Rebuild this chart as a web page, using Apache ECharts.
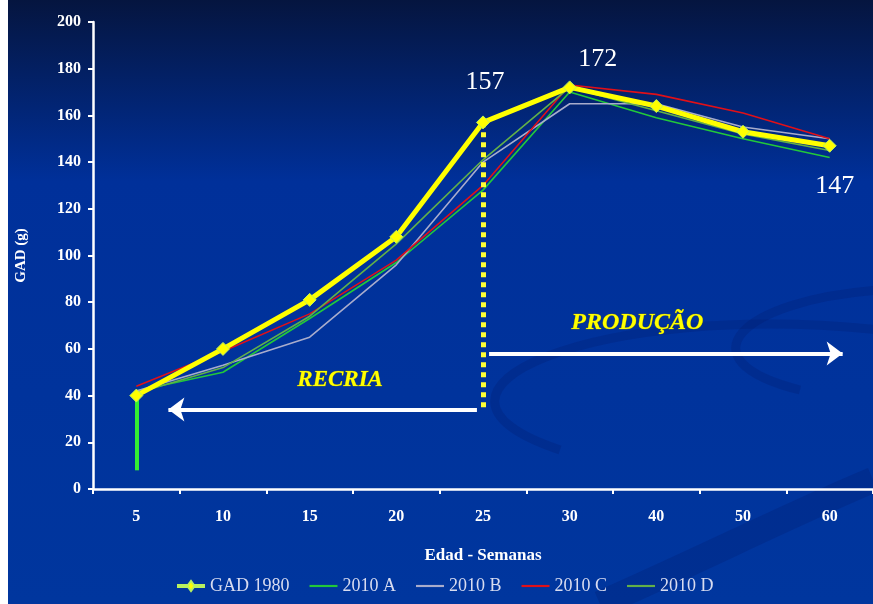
<!DOCTYPE html>
<html><head><meta charset="utf-8">
<script src="https://cdn.jsdelivr.net/npm/echarts@6/dist/echarts.min.js"></script>
<style>html,body{margin:0;padding:0;background:#fff}#c{width:873px;height:604px}</style>
</head><body><div id="c"></div>
<script>
var categories = ['5','10','15','20','25','30','40','50','60'];
var gad1980 = [40, 60, 81, 108, 157, 172, 164, 153, 147];
var s2010A = [42, 50, 73, 97, 128, 170, 159, 150, 142];
var s2010B = [42, 53, 65, 96, 140, 165, 165, 155, 150];
var s2010C = [44, 59, 75, 98, 130, 173, 169, 161, 150];
var s2010D = [41, 52, 74, 105, 141, 172, 162, 152, 145];
var yTicks = [0, 200, 20];
var peakLabels = {4: '157', 5: '172', 8: '147'};
var recriaArrow = [[3.93, 34], [0.37, 34]];
var producaoArrow = [[4.07, 58], [8.15, 58]];
var greenStem = [[0, 8], [0, 40]];
var yellowStem = [[4, 35], [4, 157]];

var serif = '"Liberation Serif","DejaVu Serif",serif';
var chart = echarts.init(document.getElementById('c'), null, {renderer: 'canvas'});

function thin(name, data, color) {
  return {name: name, type: 'line', data: data, symbol: 'none', z: 3,
    lineStyle: {width: 1.6, color: color}, itemStyle: {color: color}};
}
var labelPos = {4: {position: 'top', distance: 20, offset: [2, 0]},
                5: {position: 'top', distance: 8, offset: [28, 0]},
                8: {position: 'bottom', distance: 20, offset: [5, 0]}};
var gadData = gad1980.map(function (v, i) {
  var d = {value: v};
  if (peakLabels[i]) {
    d.label = Object.assign({show: true, formatter: peakLabels[i], color: '#ffffff',
      fontFamily: serif, fontSize: 26}, labelPos[i]);
  }
  return d;
});
function swoosh(x1, y1, cx1, cy1, cx2, cy2, x2, y2, w) {
  return {type: 'bezierCurve', silent: true, z: -1,
    shape: {x1: x1, y1: y1, cpx1: cx1, cpy1: cy1, cpx2: cx2, cpy2: cy2, x2: x2, y2: y2},
    style: {fill: null, stroke: 'rgba(0,25,100,0.22)', lineWidth: w}};
}
var lineIcon = 'path://M0,4 L26,4 L26,6 L0,6 Z';

chart.setOption({
  animation: false,
  backgroundColor: {type: 'linear', x: 0, y: 0, x2: 0, y2: 1, colorStops: [
    {offset: 0, color: '#05153f'}, {offset: 0.3, color: '#00309a'}, {offset: 1, color: '#00369e'}]},
  graphic: [
    {type: 'rect', left: 0, top: 0, shape: {width: 8, height: 604}, style: {fill: '#ffffff'}, z: 10},
    swoosh(880, 330, 600, 300, 380, 390, 560, 450, 9),
    swoosh(880, 290, 740, 300, 680, 360, 800, 390, 9),
    swoosh(600, 604, 700, 560, 800, 510, 873, 480, 26),
    {type: 'text', left: 297, top: 368, style: {text: 'RECRIA', fill: '#ffff00',
      font: 'italic bold 23px ' + serif, stroke: '#8a8a00', lineWidth: 0.6}, z: 20},
    {type: 'text', left: 571, top: 310, style: {text: 'PRODUÇÃO', fill: '#ffff00',
      font: 'italic bold 24px ' + serif, stroke: '#8a8a00', lineWidth: 0.6}, z: 20}
  ],
  grid: {left: 93, right: 0, top: 22, bottom: 115, containLabel: false},
  legend: {
    left: 172, bottom: 4, itemGap: 20, itemWidth: 28, itemHeight: 10,
    textStyle: {color: '#d8dcf0', fontFamily: serif, fontSize: 18},
    data: [
      {name: 'GAD 1980', icon: 'path://M0,4 L10,4 L13,0 L16,4 L26,4 L26,6 L16,6 L13,10 L10,6 L0,6 Z'},
      {name: '2010 A', icon: lineIcon},
      {name: '2010 B', icon: lineIcon},
      {name: '2010 C', icon: lineIcon},
      {name: '2010 D', icon: lineIcon}
    ]
  },
  xAxis: [{
    type: 'category', data: categories, boundaryGap: true,
    name: 'Edad - Semanas', nameLocation: 'middle', nameGap: 58,
    nameTextStyle: {color: '#ffffff', fontFamily: serif, fontWeight: 'bold', fontSize: 17},
    axisLine: {lineStyle: {color: '#ffffff', width: 2.5}},
    axisTick: {show: true, length: 5, lineStyle: {color: '#ffffff', width: 2}},
    axisLabel: {color: '#ffffff', fontFamily: serif, fontWeight: 'bold', fontSize: 16, margin: 20},
    splitLine: {show: false}
  }, {
    type: 'value', min: -0.5, max: 8.5, show: false
  }],
  yAxis: {
    type: 'value', min: yTicks[0], max: yTicks[1], interval: yTicks[2],
    name: 'GAD (g)', nameLocation: 'middle', nameGap: 64, nameRotate: 90,
    nameTextStyle: {color: '#ffffff', fontFamily: serif, fontWeight: 'bold', fontSize: 15},
    axisLine: {show: true, onZero: false, lineStyle: {color: '#ffffff', width: 2.5}},
    axisTick: {show: true, length: 5, lineStyle: {color: '#ffffff', width: 2}},
    axisLabel: {color: '#ffffff', fontFamily: serif, fontWeight: 'bold', fontSize: 16, margin: 12},
    splitLine: {show: false}
  },
  series: [
    thin('2010 A', s2010A, '#22c83a'),
    thin('2010 B', s2010B, '#a8accc'),
    thin('2010 C', s2010C, '#e01018'),
    thin('2010 D', s2010D, '#62b048'),
    {
      name: 'GAD 1980', type: 'line', data: gadData, z: 5,
      symbol: 'diamond', symbolSize: 13, showAllSymbol: true,
      lineStyle: {width: 5, color: '#ffff00'},
      itemStyle: {color: '#ffff00', borderColor: '#b8f060', borderWidth: 1}
    },
    {
      name: 'anno', type: 'line', xAxisIndex: 1, data: [], silent: true,
      markLine: {
        silent: true, animation: false, label: {show: false},
        data: [
          [{coord: greenStem[0], symbol: 'none', lineStyle: {color: '#33ee33', width: 4, type: 'solid'}},
           {coord: greenStem[1], symbol: 'none'}],
          [{coord: yellowStem[0], symbol: 'none', lineStyle: {color: '#ffff33', width: 5, type: 'dotted'}},
           {coord: yellowStem[1], symbol: 'none'}],
          [{coord: recriaArrow[0], symbol: 'none', lineStyle: {color: '#ffffff', width: 4, type: 'solid'}},
           {coord: recriaArrow[1], symbol: 'arrow', symbolSize: [18, 16]}],
          [{coord: producaoArrow[0], symbol: 'none', lineStyle: {color: '#ffffff', width: 4, type: 'solid'}},
           {coord: producaoArrow[1], symbol: 'arrow', symbolSize: [18, 16]}]
        ]
      }
    }
  ]
});
</script></body></html>
